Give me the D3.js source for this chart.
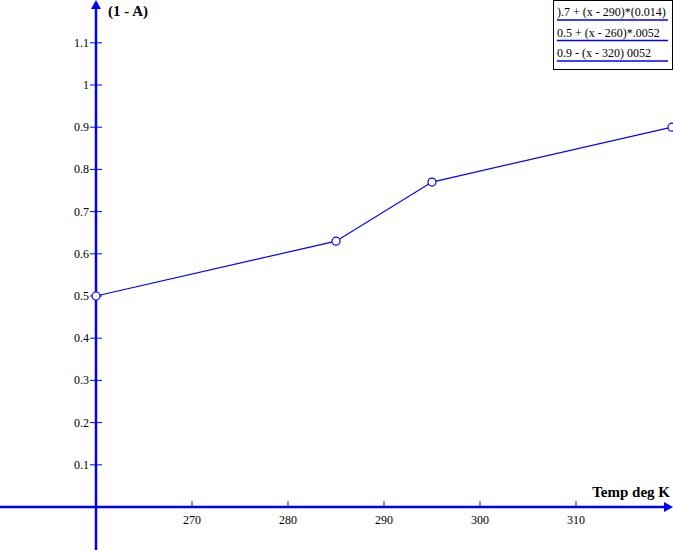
<!DOCTYPE html>
<html><head><meta charset="utf-8">
<script src="https://cdn.jsdelivr.net/npm/d3@7"></script>
<style>body{margin:0;background:#fff}svg{display:block}</style>
</head><body>
<svg id="c" width="673" height="550"></svg>
<script>
const temps = [260, 285, 295, 320];
const values = [0.5, 0.63, 0.77, 0.9];
const xTicks = [270, 280, 290, 300, 310];
const yTicks = [0.1, 0.2, 0.3, 0.4, 0.5, 0.6, 0.7, 0.8, 0.9, 1, 1.1];
const legendLabels = [").7 + (x - 290)*(0.014)", "0.5 + (x - 260)*.0052", "0.9 - (x - 320) 0052"];

const svg = d3.select("#c");
const blue = "#0000ff";
const x = d3.scaleLinear().domain([260, 320]).range([96, 672]);
const y = d3.scaleLinear().domain([0, 1]).range([507, 85]);
const font = "'Liberation Serif', 'Times New Roman', serif";

// axes lines
svg.append("line").attr("x1", 0).attr("x2", 666).attr("y1", y(0)).attr("y2", y(0))
  .attr("stroke", blue).attr("stroke-width", 2.5);
svg.append("path").attr("d", `M673,${y(0)} L664,${y(0)-5} L664,${y(0)+5} Z`).attr("fill", blue);
svg.append("line").attr("x1", x(260)).attr("x2", x(260)).attr("y1", 7).attr("y2", 550)
  .attr("stroke", blue).attr("stroke-width", 2.5);
svg.append("path").attr("d", `M${x(260)},0 L${x(260)-5},9 L${x(260)+5},9 Z`).attr("fill", blue);

// x ticks
const xa = svg.append("g");
xTicks.forEach(t => {
  xa.append("line").attr("x1", x(t)).attr("x2", x(t)).attr("y1", y(0)-6).attr("y2", y(0)+1)
    .attr("stroke", blue).attr("stroke-width", 1);
  xa.append("text").attr("x", x(t)).attr("y", y(0)+17).attr("text-anchor", "middle")
    .attr("font-family", font).attr("font-size", 12).attr("fill", "#000").text(t);
});
// y ticks
const ya = svg.append("g");
yTicks.forEach(t => {
  ya.append("line").attr("x1", x(260)-6).attr("x2", x(260)+6).attr("y1", y(t)).attr("y2", y(t))
    .attr("stroke", blue).attr("stroke-width", 1);
  ya.append("text").attr("x", x(260)-7).attr("y", y(t)+4).attr("text-anchor", "end")
    .attr("font-family", font).attr("font-size", 12).attr("fill", "#000").text(d3.format("")(t));
});

// axis titles
svg.append("text").attr("x", 108).attr("y", 16).attr("font-family", font).attr("font-weight", "bold")
  .attr("font-size", 15).attr("fill", "#000").text("(1 - A)");
svg.append("text").attr("x", 670).attr("y", 497).attr("text-anchor", "end").attr("font-family", font)
  .attr("font-weight", "bold").attr("font-size", 15).attr("fill", "#000").text("Temp deg K");

// line
const data = temps.map((t, i) => ({t, v: values[i]}));
svg.append("path").datum(data)
  .attr("d", d3.line().x(d => x(d.t)).y(d => y(d.v)))
  .attr("fill", "none").attr("stroke", blue).attr("stroke-width", 1.2);
svg.selectAll("circle.pt").data(data).join("circle").attr("class", "pt")
  .attr("cx", d => x(d.t)).attr("cy", d => y(d.v)).attr("r", 4)
  .attr("fill", "#fff").attr("stroke", blue).attr("stroke-width", 1.2);

// legend
const lg = svg.append("g");
lg.append("rect").attr("x", 553.5).attr("y", 0.5).attr("width", 119).attr("height", 69)
  .attr("fill", "#fff").attr("stroke", "#000").attr("stroke-width", 1);
legendLabels.forEach((s, i) => {
  lg.append("text").attr("x", 557).attr("y", 16 + i * 20.5).attr("font-family", font)
    .attr("font-size", 12).attr("fill", "#000").text(s);
  lg.append("line").attr("x1", 557).attr("x2", 668).attr("y1", 20 + i * 20.5).attr("y2", 20 + i * 20.5)
    .attr("stroke", blue).attr("stroke-width", 1.5);
});
</script>
</body></html>
